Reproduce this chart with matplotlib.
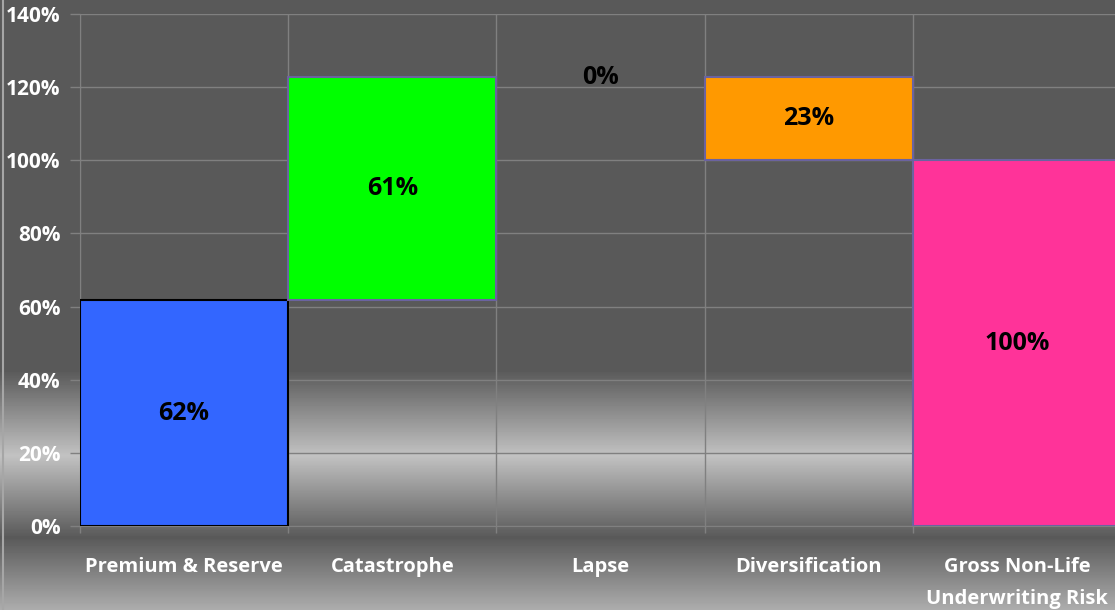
import numpy as np
import matplotlib
matplotlib.use("Agg")
import matplotlib.pyplot as plt
from matplotlib.lines import Line2D

# waterfall data (percent of gross non-life underwriting risk)
categories = ["Premium & Reserve", "Catastrophe", "Lapse", "Diversification",
              "Gross Non-Life\nUnderwriting Risk"]
changes = [61.7, 61.0, 0.0, -22.7]
total = 100.0
colors = ["#3366FF", "#00FF00", "#FF9900", "#FF9900", "#FF3399"]
edges = ["black", "#6B63A0", "none", "#6B63A0", "#6B63A0"]

plt.rcParams['font.family'] = ['Open Sans', 'DejaVu Sans']
plt.rcParams['font.weight'] = 'bold'

fig = plt.figure(figsize=(11.15, 6.10), dpi=100)

# background gradient over whole figure
bg = fig.add_axes([0, 0, 1, 1], zorder=-10)
rows = np.arange(610)
shade = np.interp(rows, [0, 370, 455, 537, 610], [0.35, 0.35, 0.76, 0.35, 0.68])
bg.imshow(np.repeat(shade[:, None], 10, axis=1), cmap="gray", vmin=0, vmax=1,
          aspect="auto", extent=[0, 1, 0, 1], origin="upper")
bg.set_axis_off()
fig.add_artist(Line2D([3 / 1115, 3 / 1115], [0, 1], color="#a6a6a6", lw=1.5))

ax = fig.add_axes([80 / 1115, 1 - 526 / 610, 1041 / 1115, 512 / 610])
ax.set_facecolor("none")

# bottoms and heights for waterfall
bottoms, heights = [], []
cum = 0.0
for c in changes:
    bottoms.append(min(cum, cum + c))
    heights.append(abs(c))
    cum += c
bottoms.append(0.0)
heights.append(total)

x = np.arange(len(categories))
ax.bar(x, heights, bottom=bottoms, width=1.0, color=colors, edgecolor=edges,
       linewidth=1.5, zorder=3)

running = [0.0] + list(np.cumsum(changes))
for i in range(len(categories)):
    val = heights[i]
    yc = bottoms[i] + heights[i] / 2
    if val == 0:
        yc = running[i]
    ax.text(x[i], yc, f"{round(val):.0f}%", ha="center", va="center",
            fontsize=18, fontweight="bold", color="black", zorder=4)

ax.set_xlim(-0.5, 4.5)
ax.set_ylim(0, 140)
ax.set_yticks(np.arange(0, 141, 20))
ax.set_yticklabels([f"{v}%" for v in range(0, 141, 20)])
ax.set_xticks(x)
ax.set_xticklabels(categories, linespacing=1.8)
ax.set_xticks(np.arange(-0.5, 4.6, 1.0), minor=True)

ax.tick_params(axis="y", colors="#808080", labelcolor="white", labelsize=15,
               length=7, width=1, pad=7)
ax.tick_params(axis="x", which="major", length=0, labelcolor="white",
               labelsize=14.5, pad=22)
ax.tick_params(axis="x", which="minor", colors="#808080", length=5, width=1)

ax.grid(True, axis="y", color="#808080", lw=1, zorder=1)
ax.grid(True, axis="x", which="minor", color="#808080", lw=1, zorder=1)
for s in ["top", "right"]:
    ax.spines[s].set_visible(False)
ax.spines["left"].set_color("#808080")
ax.spines["bottom"].set_color("#808080")

fig.savefig("out.png", dpi=100)
